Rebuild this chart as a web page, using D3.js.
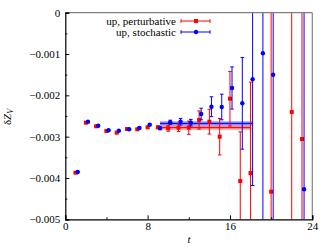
<!DOCTYPE html>
<html>
<head>
<meta charset="utf-8">
<script src="https://cdn.jsdelivr.net/npm/d3@7"></script>
<style>
body{margin:0;background:#fff;}
text{font-family:"Liberation Serif","DejaVu Serif",serif;font-size:11px;}
</style>
</head>
<body>
<div id="canva"></div>
<script>
// timeslices and values
var tPert = [1,2,3,4,5,6,7,8,9,10,11,12,13,14,15,16,17,18,20,22,23];
var yPert = [-0.003872,-0.002662,-0.002749,-0.002863,-0.002904,-0.002815,-0.002822,-0.002773,-0.002773,-0.002798,-0.002783,-0.002783,-0.002597,-0.002638,-0.003001,-0.002081,-0.004073,-0.00388,-0.004332,-0.002403,-0.003057];
var ePert = [0.00001,0.00001,0.00001,0.00001,0.00001,0.00001,0.00002,0.00002,0.00003,0.00007,0.00009,0.00016,0.00022,0.0003,0.00044,0.00066,0.00119,0.0022,0.006,0.006,0.006];

var tStoch = [1,2,3,4,5,6,7,8,9,10,11,12,13,14,15,16,17,18,19,20,23];
var yStoch = [-0.003855,-0.002638,-0.002735,-0.002846,-0.002856,-0.002822,-0.00279,-0.00271,-0.002798,-0.002652,-0.002638,-0.002662,-0.002452,-0.002275,-0.002282,-0.001822,-0.002193,-0.001612,-0.000983,-0.0015,-0.004274];
var eStoch = [0.00001,0.00001,0.00001,0.00001,0.00001,0.00001,0.00002,0.00002,0.00003,0.00005,0.00008,0.00008,0.00014,0.00024,0.00031,0.00051,0.00111,0.00257,0.006,0.006,0.006];

// plateau fits: [tmin, tmax, value, error]
var fitPert = [9, 18, -0.00278, 0.00005];
var fitStoch = [9.2, 18.2, -0.00268, 0.00005];

var xTicks = [0,8,16,24];
var yTicks = [-0.005,-0.004,-0.003,-0.002,-0.001,0];
var labels = ["up, perturbative","up, stochastic"];

var W = 332, H = 249;
var x = d3.scaleLinear().domain([0,24]).range([65.3,312.3]);
var y = d3.scaleLinear().domain([-0.005,0]).range([219.3,12.7]);

var svg = d3.select("#canva").append("svg")
	.attr("width",W).attr("height",H);

svg.append("clipPath").attr("id","clip")
	.append("rect")
	.attr("x",x(0)).attr("y",y(0))
	.attr("width",x(24)-x(0)).attr("height",y(-0.005)-y(0));

var plot = svg.append("g").attr("clip-path","url(#clip)");

function band(fit, col){
	plot.append("rect")
		.attr("x",x(fit[0])).attr("width",x(fit[1])-x(fit[0]))
		.attr("y",y(fit[2]+fit[3])).attr("height",y(fit[2]-fit[3])-y(fit[2]+fit[3]))
		.attr("fill",col).attr("opacity",0.45);
	plot.append("line")
		.attr("x1",x(fit[0])).attr("x2",x(fit[1]))
		.attr("y1",y(fit[2])).attr("y2",y(fit[2]))
		.attr("stroke",col).attr("stroke-width",1);
}
band(fitPert,"#ff0000");
band(fitStoch,"#0000ff");

function series(ts, vs, es, col, dx, shape){
	var d = ts.map(function(t,i){return {t:t+dx, v:vs[i], e:es[i]};});
	var g = plot.append("g");
	g.selectAll(".bar").data(d).enter().append("line")
		.attr("x1",function(d){return x(d.t);}).attr("x2",function(d){return x(d.t);})
		.attr("y1",function(d){return y(d.v+d.e);}).attr("y2",function(d){return y(d.v-d.e);})
		.attr("stroke",col).attr("stroke-width",1);
	[1,-1].forEach(function(s){
		g.selectAll(".cap").data(d).enter().append("line")
			.attr("x1",function(d){return x(d.t)-1.8;}).attr("x2",function(d){return x(d.t)+1.8;})
			.attr("y1",function(d){return y(d.v+s*d.e);}).attr("y2",function(d){return y(d.v+s*d.e);})
			.attr("stroke",col).attr("stroke-width",1);
	});
	if (shape=="square"){
		g.selectAll(".pt").data(d).enter().append("rect")
			.attr("x",function(d){return x(d.t)-2;}).attr("y",function(d){return y(d.v)-2;})
			.attr("width",4).attr("height",4).attr("fill",col);
	} else {
		g.selectAll(".pt").data(d).enter().append("circle")
			.attr("cx",function(d){return x(d.t);}).attr("cy",function(d){return y(d.v);})
			.attr("r",2.2).attr("fill",col);
	}
}
series(tPert,yPert,ePert,"#ff0000",0,"square");
series(tStoch,yStoch,eStoch,"#0000ff",0.2,"circle");

// frame: grey top/right, black left/bottom
svg.append("line").attr("x1",x(0)).attr("x2",x(24)).attr("y1",y(0)).attr("y2",y(0))
	.attr("stroke","#808080").attr("stroke-width",1.2);
svg.append("line").attr("x1",x(24)).attr("x2",x(24)).attr("y1",y(0)).attr("y2",y(-0.005))
	.attr("stroke","#808080").attr("stroke-width",1.2);

var fmt = function(d){return d==0 ? "0" : d3.format(".3f")(d);};

var yAxis = svg.append("g").attr("transform","translate("+x(0)+",0)")
	.call(d3.axisLeft(y).tickValues(yTicks).tickSize(-4).tickPadding(5).tickFormat(fmt));
svg.append("g").attr("transform","translate("+x(0)+",0)")
	.call(d3.axisLeft(y).tickValues(d3.range(-0.0045,0,0.001)).tickSize(-2).tickFormat(""))
	.select(".domain").remove();
var xAxis = svg.append("g").attr("transform","translate(0,"+y(-0.005)+")")
	.call(d3.axisBottom(x).tickValues(xTicks).tickSize(-4).tickPadding(3).tickFormat(d3.format("d")));
svg.append("g").attr("transform","translate(0,"+y(-0.005)+")")
	.call(d3.axisBottom(x).tickValues([4,12,20]).tickSize(-2).tickFormat(""))
	.select(".domain").remove();
svg.selectAll(".domain").attr("stroke","#000").attr("stroke-width",1.2);
svg.selectAll(".tick text").attr("font-family","Liberation Serif").attr("font-size",11).attr("fill","#000");

// axis titles
svg.append("text").attr("x",189).attr("y",243).attr("text-anchor","middle")
	.attr("font-style","italic").text("t");
var yl = svg.append("text").attr("transform","translate(11,117) rotate(-90)").attr("text-anchor","middle");
yl.append("tspan").text("δ");
yl.append("tspan").attr("font-style","italic").text("Z");
yl.append("tspan").attr("font-style","italic").attr("font-size",8).attr("dy",2).text("V");

// legend
var leg = svg.append("g");
labels.forEach(function(l,i){
	var ly = 21 + i*11;
	var col = i==0 ? "#ff0000" : "#0000ff";
	leg.append("text").attr("x",176).attr("y",ly+3.5).attr("text-anchor","end").text(l);
	leg.append("line").attr("x1",181).attr("x2",210).attr("y1",ly).attr("y2",ly)
		.attr("stroke",col).attr("stroke-width",1);
	[181,210].forEach(function(cx){
		leg.append("line").attr("x1",cx).attr("x2",cx).attr("y1",ly-1.8).attr("y2",ly+1.8)
			.attr("stroke",col).attr("stroke-width",1);
	});
	if (i==0) leg.append("rect").attr("x",194).attr("y",ly-2).attr("width",4).attr("height",4).attr("fill",col);
	else leg.append("circle").attr("cx",196).attr("cy",ly).attr("r",2.2).attr("fill",col);
});
</script>
</body>
</html>
